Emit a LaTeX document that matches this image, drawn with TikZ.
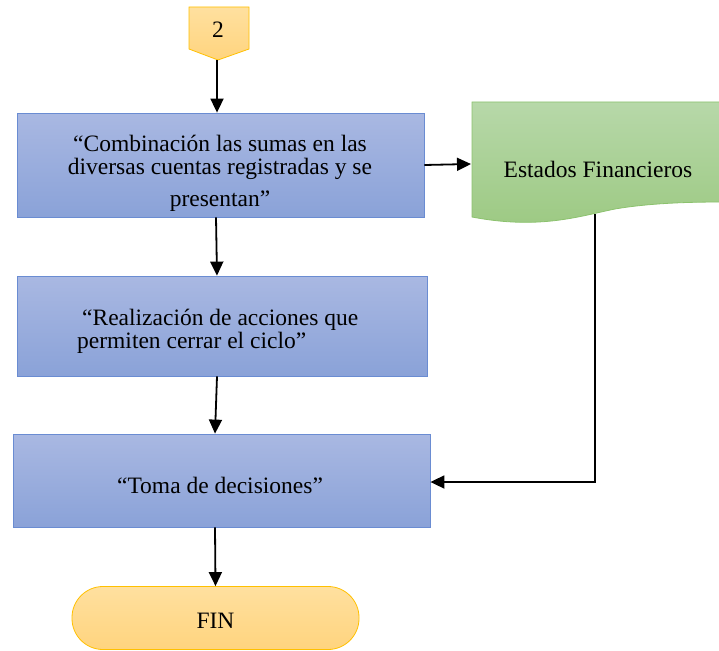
\documentclass[tikz,border=0pt]{standalone}
\usepackage{fontspec}
\setmainfont{Liberation Serif}
\newfontfamily\timesfam{Liberation Serif}
\usetikzlibrary{arrows.meta,calc}
\definecolor{bluetop}{HTML}{A9B8E2}
\definecolor{bluebot}{HTML}{8AA2D8}
\definecolor{blueline}{HTML}{6A8CD2}
\definecolor{greentop}{HTML}{B7D8A9}
\definecolor{greenbot}{HTML}{9CC982}
\definecolor{greenline}{HTML}{8CC26E}
\definecolor{yeltop}{HTML}{FFE09F}
\definecolor{yelbot}{HTML}{FFD47E}
\definecolor{yelline}{HTML}{FFC000}
\tikzset{
  procbox/.style={draw=blueline, line width=0.8pt, top color=bluetop, bottom color=bluebot, minimum width=#1, inner sep=0pt},
  txt/.style={inner sep=0pt, font=\timesfam\fontsize{23.5}{23}\selectfont, text=black},
  arr/.style={line width=1.8pt, -{Triangle[length=14pt,width=13pt]}},
}
\begin{document}
\begin{tikzpicture}[x=1pt,y=-1pt]
\useasboundingbox (0,0) rectangle (719,650);
% off-page connector 2
\draw[yelline, line width=0.8pt, top color=yeltop, bottom color=yelbot]
  (189,7) -- (249,7) -- (249,49) -- (218,60) -- (189,49) -- cycle;
\node[txt, anchor=base] (c2) at (218,38) {2};
\coordinate (c2b) at (217,60);
% boxes
\node[procbox=407pt, minimum height=104pt] (b1) at (220.5,165) {};
\node[txt, align=center] (t1) at (220,173) {“Combinación las sumas en las\\diversas cuentas registradas y se\\[9pt]presentan”};
\node[procbox=410pt, minimum height=100pt] (b2) at (222,326) {};
\node[txt, align=left, anchor=west] (t2) at (77,331) {\hspace*{5pt}“Realización de acciones que\\permiten cerrar el ciclo”};
\node[procbox=417pt, minimum height=93pt] (b3) at (221.5,480.5) {};
\node[txt, anchor=base] (t3) at (220,493) {“Toma de decisiones”};
% FIN
\node[draw=yelline, line width=0.8pt, top color=yeltop, bottom color=yelbot, minimum width=287pt, minimum height=63pt, rounded corners=31pt, inner sep=0pt] (fin) at (215.5,618) {};
\node[txt, anchor=base] (tfin) at (215.5,628) {FIN};
% document
\draw[greenline, line width=0.8pt, top color=greentop, bottom color=greenbot]
  (472,102) -- (722,102) -- (722,202) .. controls (690,202) and (650,203) .. (615,209)
  .. controls (580,216) and (540,230) .. (472,217) -- cycle;
\node[txt, anchor=base] (doc) at (598,177) {Estados Financieros};
\coordinate (docl) at (471,164);
\coordinate (docb) at (595,214);
% connectors
\draw[arr] (c2b) -- (c2b |- b1.north);
\draw[arr] ([xshift=-4.5pt]b1.south) -- ([xshift=-5pt]b2.north);
\draw[arr] ([xshift=-5pt]b2.south) -- ([xshift=-6.5pt]b3.north);
\draw[arr] ([xshift=-6.5pt]b3.south) -- (fin.north);
\draw[arr] (b1.east) -- (docl);
\draw[arr] (docb) -- (docb |- 0,482) -- (b3.east |- 0,482);
\end{tikzpicture}
\end{document}
